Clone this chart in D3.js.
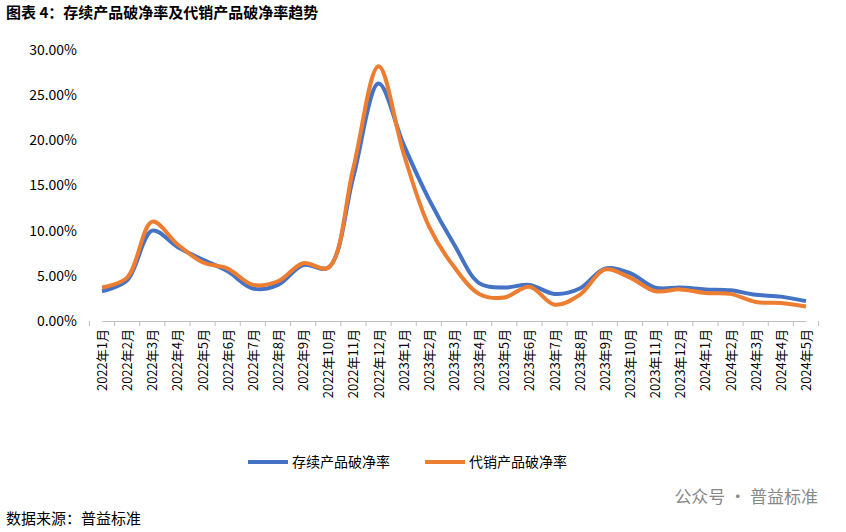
<!DOCTYPE html><html><head><meta charset="utf-8"><script src="https://cdn.jsdelivr.net/npm/d3@7"></script>
<style>body{margin:0;background:#fff}text{font-family:"Noto Sans CJK SC","Liberation Serif",serif}</style></head><body><svg id="c" width="846" height="532"></svg><script>
const categories=["2022年1月","2022年2月","2022年3月","2022年4月","2022年5月","2022年6月","2022年7月","2022年8月","2022年9月","2022年10月","2022年11月","2022年12月","2023年1月","2023年2月","2023年3月","2023年4月","2023年5月","2023年6月","2023年7月","2023年8月","2023年9月","2023年10月","2023年11月","2023年12月","2024年1月","2024年2月","2024年3月","2024年4月","2024年5月"];
const existing=[3.3,4.5,10.0,8.2,6.8,5.5,3.6,4.0,6.2,5.9,16,26.3,19.5,13.5,8.5,4.2,3.7,4.0,3.0,3.6,5.8,5.3,3.7,3.7,3.5,3.4,2.9,2.7,2.2];
const consign=[3.7,4.8,11.0,8.5,6.5,5.8,4.0,4.4,6.4,5.9,17.0,28.2,18.5,10.5,6.0,3.0,2.6,3.8,1.8,2.9,5.7,4.8,3.3,3.5,3.1,3.0,2.1,2.0,1.6];
const yTicks=[0,5,10,15,20,25,30];
const svg=d3.select("#c");
const x=d3.scalePoint().domain(categories).range([102,806]);
const y=d3.scaleLinear().domain([0,30]).range([321,50]);
svg.append("text").attr("x",6).attr("y",18).attr("font-size",15).attr("font-weight","bold").text("图表 4：存续产品破净率及代销产品破净率趋势");
const ya=svg.append("g").attr("transform","translate(89,0)").call(d3.axisLeft(y).tickValues(yTicks).tickFormat(d=>d.toFixed(2)+"%").tickSize(0).tickPadding(12));
ya.select(".domain").remove();ya.selectAll("text").attr("font-size",14).attr("font-family","Liberation Sans, Arial");
const xa=svg.append("g").attr("transform","translate(0,321)").call(d3.axisBottom(x).tickSizeOuter(0).tickSize(0));
xa.select(".domain").attr("stroke","#bfbfbf");
xa.selectAll("text").attr("transform","rotate(-90)").attr("text-anchor","end").attr("dx","-8").attr("dy","0.35em").attr("x",0).attr("y",0).attr("font-size",13).attr("fill","#000");
const bw=(806-102)/28;
xa.selectAll(".bt").data(d3.range(30)).enter().append("line").attr("x1",i=>102-bw/2+i*bw).attr("x2",i=>102-bw/2+i*bw).attr("y1",0).attr("y2",5).attr("stroke","#bfbfbf");
const line=d3.line().x((d,i)=>x(categories[i])).y(d=>y(d)).curve(d3.curveCatmullRom.alpha(0.5));
svg.append("path").attr("d",line(existing)).attr("fill","none").attr("stroke","#4472C4").attr("stroke-width",4);
svg.append("path").attr("d",line(consign)).attr("fill","none").attr("stroke","#ED7D31").attr("stroke-width",4);
const lg=[["存续产品破净率","#4472C4",248],["代销产品破净率","#ED7D31",425]];
lg.forEach(([t,c,lx])=>{svg.append("line").attr("x1",lx).attr("x2",lx+40).attr("y1",462).attr("y2",462).attr("stroke",c).attr("stroke-width",4);
svg.append("text").attr("x",lx+44).attr("y",467).attr("font-size",14).text(t);});
svg.append("text").attr("x",6).attr("y",524).attr("font-size",15).text("数据来源：普益标准");
svg.append("text").attr("x",818).attr("y",503).attr("text-anchor","end").attr("font-size",17).attr("fill","#888").text("公众号 · 普益标准");
</script></body></html>
